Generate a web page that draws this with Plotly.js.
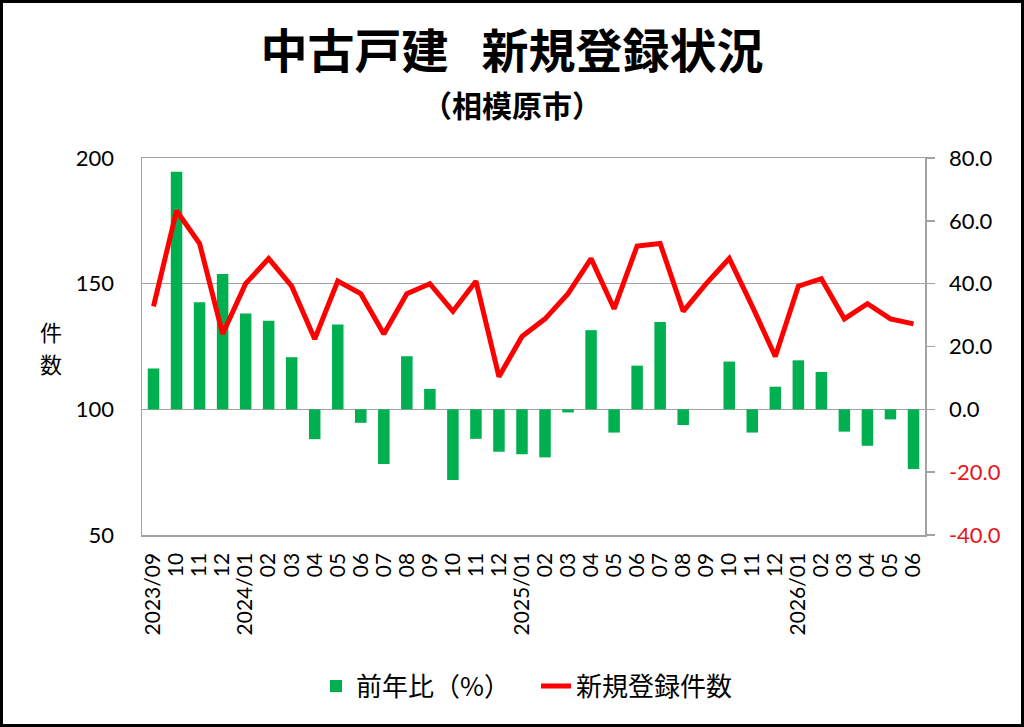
<!DOCTYPE html>
<html>
<head>
<meta charset="utf-8">
<script src="https://cdn.plot.ly/plotly-3.0.1.min.js"></script>
<style>
  html, body { margin: 0; padding: 0; background: #fff; }
  #wrap { position: relative; width: 1024px; height: 727px; }
  #chart { position: absolute; left: 0; top: 0; width: 1024px; height: 727px; }
  #frame { position: absolute; left: 0; top: 0; width: 1024px; height: 727px; box-sizing: border-box; border: 3px solid #000; pointer-events: none; }
</style>
</head>
<body>
<div id="wrap"><div id="chart"></div><div id="frame"></div></div>
<script>
// Months (category keys) and displayed tick labels
const months = [
  '2023/09','2023/10','2023/11','2023/12',
  '2024/01','2024/02','2024/03','2024/04','2024/05','2024/06','2024/07','2024/08','2024/09','2024/10','2024/11','2024/12',
  '2025/01','2025/02','2025/03','2025/04','2025/05','2025/06','2025/07','2025/08','2025/09','2025/10','2025/11','2025/12',
  '2026/01','2026/02','2026/03','2026/04','2026/05','2026/06'
];
const monthLabels = [
  '2023/09','10','11','12',
  '2024/01','02','03','04','05','06','07','08','09','10','11','12',
  '2025/01','02','03','04','05','06','07','08','09','10','11','12',
  '2026/01','02','03','04','05','06'
];
// 前年比（%）
const yoyPct = [
  13.0, 75.6, 34.1, 43.1,
  30.5, 28.2, 16.6, -9.5, 27.0, -4.3, -17.4, 16.9, 6.5, -22.5, -9.4, -13.5,
  -14.3, -15.3, -1.0, 25.2, -7.4, 13.9, 27.8, -5.0, 0.0, 15.2, -7.4, 7.2,
  15.6, 11.9, -7.1, -11.6, -3.2, -19.0
];
// 新規登録件数
const newListings = [
  141, 179, 166, 130,
  150, 160, 149, 128, 151, 146, 130, 146, 150, 139, 151, 113,
  129, 136, 146, 160, 140, 165, 166, 139, 150, 160, 141, 121,
  149, 152, 136, 142, 136, 134
];
// Right axis ticks
const pctTickVals = [-40, -20, 0, 20, 40, 60, 80];
const pctTickText = pctTickVals.map(v => v < 0
  ? '<span style="color:#E8141B">' + v.toFixed(1) + '</span>'
  : v.toFixed(1));
// Left axis ticks
const cntTickVals = [50, 100, 150, 200];

const FONT = 'Lato, "Noto Sans CJK JP", sans-serif';
const CJK = '"Noto Sans CJK JP", sans-serif';
const GRID = '#A3A3A3';

const traces = [
  {
    type: 'bar', name: '前年比（%）',
    x: months, y: yoyPct, yaxis: 'y',
    marker: { color: '#00B050' },
    hoverinfo: 'skip'
  },
  {
    type: 'scatter', mode: 'lines', name: '新規登録件数',
    x: months, y: newListings, yaxis: 'y2',
    line: { color: '#FF0000', width: 5 },
    hoverinfo: 'skip'
  }
];

const px = v => (v - 142) / 783;   // page x -> paper x
const py = v => (535 - v) / 377;   // page y -> paper y

const layout = {
  width: 1024, height: 727,
  paper_bgcolor: '#fff', plot_bgcolor: '#fff',
  margin: { l: 142, r: 99, t: 158, b: 192 },
  font: { family: FONT, size: 22, color: '#000' },
  title: {
    text: '中古戸建\u2002\u2009新規登録状況',
    font: { family: CJK, size: 47, weight: 'bold', color: '#000' },
    xref: 'container', x: 0.5, xanchor: 'center',
    yref: 'container', y: 1 - 52/727, yanchor: 'middle'
  },
  bargap: 0.5,
  showlegend: true,
  legend: {
    orientation: 'h', x: px(316), xanchor: 'left', y: py(686), yanchor: 'middle',
    font: { family: CJK, size: 26, color: '#000' },
    itemwidth: 30, entrywidth: 175
  },
  xaxis: {
    type: 'category',
    tickmode: 'array', tickvals: months, ticktext: monthLabels,
    tickangle: -90,
    tickfont: { family: FONT, size: 21 },
    showline: true, linecolor: GRID, linewidth: 1.5, mirror: true,
    showgrid: false, ticks: '',
    ticklabelstandoff: 8
  },
  yaxis: {
    side: 'right',
    range: [-40, 80],
    tickmode: 'array', tickvals: pctTickVals, ticktext: pctTickText,
    showgrid: false, zeroline: false,
    showline: true, linecolor: GRID, linewidth: 1.5,
    ticks: 'outside', ticklen: 8, tickcolor: GRID, tickwidth: 1.5,
    tickfont: { family: FONT, size: 22 },
    ticklabelstandoff: 10
  },
  yaxis2: {
    overlaying: 'y', side: 'left',
    range: [50, 200],
    tickmode: 'array', tickvals: cntTickVals,
    showgrid: true, gridcolor: GRID, gridwidth: 1.5,
    zeroline: false,
    showline: true, linecolor: GRID, linewidth: 1.5,
    ticks: '',
    tickfont: { family: FONT, size: 22 },
    ticklabelstandoff: 22
  },
  annotations: [
    {
      text: '（相模原市）', xref: 'paper', yref: 'paper',
      x: px(512), y: py(104),
      xanchor: 'center', yanchor: 'middle', showarrow: false,
      font: { family: CJK, size: 30, weight: 'bold', color: '#000' }
    },
    {
      text: '件', xref: 'paper', yref: 'paper',
      x: px(51), y: py(331),
      xanchor: 'center', yanchor: 'middle', showarrow: false,
      borderpad: 0,
      font: { family: CJK, size: 22, color: '#000' }
    },
    {
      text: '数', xref: 'paper', yref: 'paper',
      x: px(51), y: py(363),
      xanchor: 'center', yanchor: 'middle', showarrow: false,
      borderpad: 0,
      font: { family: CJK, size: 22, color: '#000' }
    }
  ]
};

Plotly.newPlot('chart', traces, layout, { displayModeBar: false, staticPlot: true });
</script>
</body>
</html>
